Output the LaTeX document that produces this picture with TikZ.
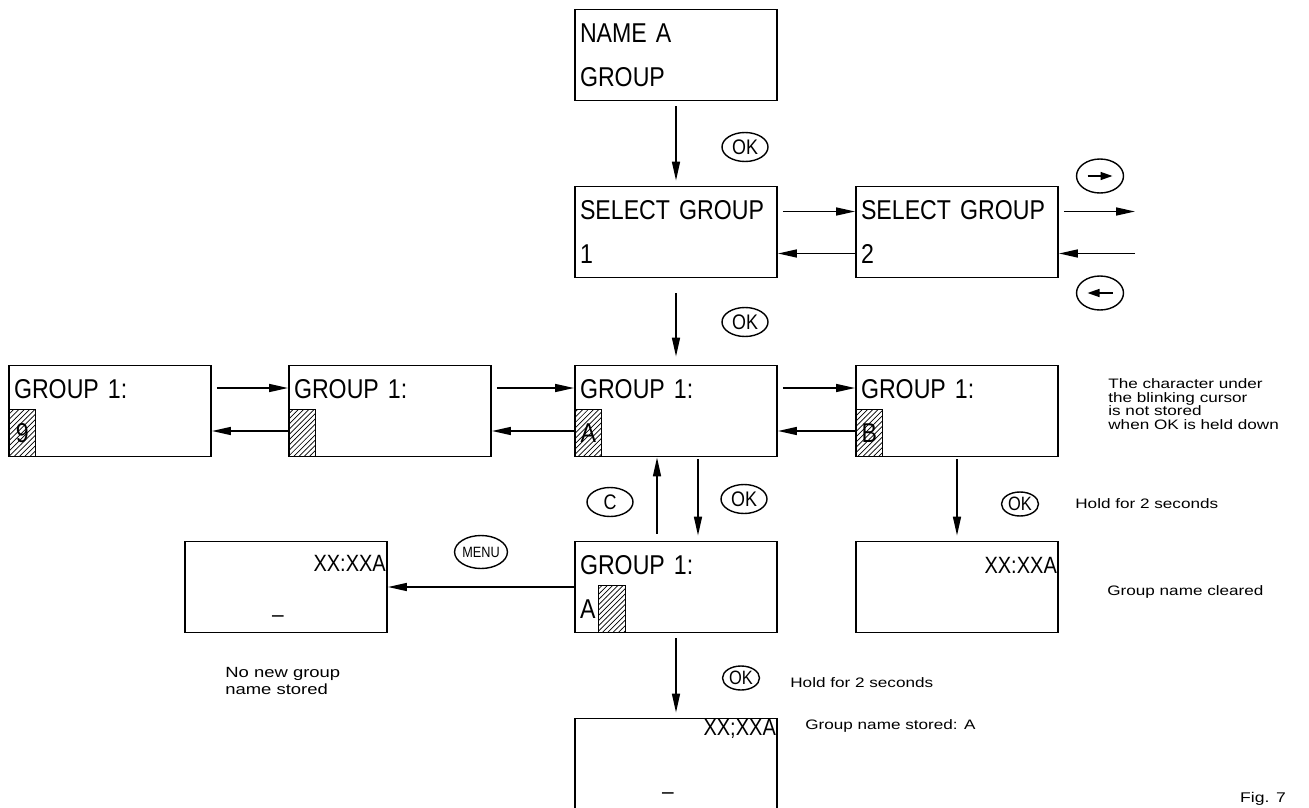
\documentclass[tikz,border=0pt]{standalone}
\usepackage{fontspec}
\setmainfont{Liberation Sans}
\newfontfamily\lcdfont[FakeStretch=0.85]{Liberation Sans}
\newfontfamily\notefont[FakeStretch=1.25]{Liberation Sans}
\usetikzlibrary{shapes.geometric,arrows.meta,patterns}
\tikzset{
  lcdbox/.style={rectangle,draw=black,line width=1.1pt,minimum width=4.04cm,
                 minimum height=1.82cm,inner sep=0pt},
  lcdscreen/.style={lcdbox,align=left,text width=3.84cm,
                    font=\lcdfont\fontsize{15.5}{25}\selectfont},
  cursorbox/.style={rectangle,draw=black,line width=0.8pt,
                    pattern=north east lines,minimum width=0.54cm,
                    minimum height=0.94cm,inner sep=0pt,
                    font=\lcdfont\fontsize{15.5}{18}\selectfont},
  clocktext/.style={inner sep=1pt,font=\lcdfont\fontsize{13.4}{16}\selectfont},
  keybtn/.style={ellipse,draw=black,line width=0.8pt,minimum width=0.92cm,
                 minimum height=0.58cm,inner sep=0pt,
                 font=\lcdfont\fontsize{12}{14}\selectfont},
  holdkey/.style={keybtn,minimum width=0.74cm,minimum height=0.48cm,
                  font=\lcdfont\fontsize{11}{13}\selectfont},
  rightkey/.style={keybtn,minimum width=0.94cm,minimum height=0.68cm,
    path picture={\draw[-{Triangle[length=0.24cm,width=0.16cm]},line width=0.8pt]
      ([xshift=-0.25cm]path picture bounding box.center) --
      ([xshift=0.25cm]path picture bounding box.center);}},
  leftkey/.style={keybtn,minimum width=0.94cm,minimum height=0.68cm,
    path picture={\draw[-{Triangle[length=0.24cm,width=0.16cm]},line width=0.8pt]
      ([xshift=0.25cm]path picture bounding box.center) --
      ([xshift=-0.25cm]path picture bounding box.center);}},
  notetext/.style={inner sep=0pt,align=left,
                   font=\notefont\fontsize{7.8}{7.8}\selectfont},
  arr/.style={-{Triangle[length=0.38cm,width=0.16cm]},line width=0.9pt}
}

\begin{document}
\begin{tikzpicture}[x=0.02cm,y=-0.02cm]
  \useasboundingbox (0,0) rectangle (1309,808);

  % screens
  \node[lcdscreen] (name) at (676,55) {NAME A\\GROUP};
  \node[lcdscreen] (sel1) at (676,232) {SELECT GROUP\\1};
  \node[lcdscreen] (sel2) at (957,232) {SELECT GROUP\\2};
  \node[lcdscreen] (g9) at (110,411) {GROUP 1:\\\phantom{A}};
  \node[lcdscreen] (gblank) at (390,411) {GROUP 1:\\\phantom{A}};
  \node[lcdscreen] (gA) at (676,411) {GROUP 1:\\\phantom{A}};
  \node[lcdscreen] (gB) at (957,411) {GROUP 1:\\\phantom{A}};
  \node[lcdscreen] (gedit) at (676,587) {GROUP 1:\\A};
  \node[lcdbox] (nonew) at (286,587) {};
  \node[lcdbox] (clear) at (957,587) {};
  \node[lcdbox] (store) at (676,764) {};

  % blinking cursor
  \node[cursorbox,anchor=south west] (c9) at (g9.south west) {9};
  \node[cursorbox,anchor=south west] (cblank) at (gblank.south west) {};
  \node[cursorbox,anchor=south west] (cA) at (gA.south west) {A};
  \node[cursorbox,anchor=south west] (cB) at (gB.south west) {B};
  \node[cursorbox,anchor=south west] (cedit) at ([xshift=0.48cm]gedit.south west) {};

  % clock screens
  \node[clocktext,anchor=east] (tnonew) at ([yshift=-0.46cm]nonew.north east) {XX:XXA};
  \node[clocktext] (unonew) at ([xshift=-0.16cm,yshift=-0.56cm]nonew.center) {\_};
  \node[clocktext,anchor=east] (tclear) at ([yshift=-0.5cm]clear.north east) {XX:XXA};
  \node[clocktext,anchor=east] (tstore) at ([yshift=-0.22cm]store.north east) {XX;XXA};
  \node[clocktext] (ustore) at ([xshift=-0.16cm,yshift=-0.56cm]store.center) {\_};

  % keys
  \node[keybtn] (ok1) at (745,147) {OK};
  \node[keybtn] (ok2) at (745,322) {OK};
  \node[keybtn] (keyc) at (610,502) {C};
  \node[keybtn] (ok3) at (744,499) {OK};
  \node[holdkey] (ok4) at (1020,504) {OK};
  \node[holdkey] (ok5) at (741,678) {OK};
  \node[keybtn,minimum width=0.96cm,minimum height=0.66cm,
        font=\lcdfont\fontsize{8.5}{10}\selectfont] (menu) at (481,552) {MENU};
  \node[rightkey] (keyr) at (1100,176) {};
  \node[leftkey] (keyl) at (1100,293) {};

  % notes
  \node[notetext,anchor=west] (nchar) at (1108,404) {The character under\\the blinking cursor\\is not stored\\when OK is held down};
  \node[notetext,anchor=west] (hold1) at (1075,504) {Hold for 2 seconds};
  \node[notetext,anchor=west] (ncleared) at (1107,592) {Group name cleared};
  \node[notetext,anchor=west,font=\notefont\fontsize{8.4}{10}\selectfont] (nnone) at (225,681) {No new group\\name stored};
  \node[notetext,anchor=west] (hold2) at (790,683) {Hold for 2 seconds};
  \node[notetext,anchor=west] (nstored) at (805,726) {Group name stored: A};
  \node[notetext,font=\notefont\fontsize{8}{10}\selectfont] (fig) at (1263,799) {Fig. 7};

  % arrows
  \draw[arr,shorten <=0.1cm,shorten >=0.1cm] (name) -- (sel1);
  \draw[arr,shorten <=0.3cm,shorten >=0.16cm] (sel1) -- (gA);
  \foreach \a/\b/\u/\d in {sel1/sel2/0.41/-0.43,g9/gblank/0.46/-0.4,
                           gblank/gA/0.46/-0.4,gA/gB/0.46/-0.4}{
    \draw[arr,shorten <=0.1cm] ([yshift=\u cm]\a.east) -- ([yshift=\u cm]\b.west);
    \draw[arr] ([yshift=\d cm]\b.west) -- ([yshift=\d cm]\a.east);
  }
  \coordinate (more) at (1135,232);
  \draw[arr,shorten <=0.1cm] ([yshift=0.41cm]sel2.east) -- ([yshift=0.41cm]more);
  \draw[arr] ([yshift=-0.43cm]more) -- ([yshift=-0.43cm]sel2.east);
  \draw[arr,shorten <=0.04cm,shorten >=0.1cm] ([xshift=0.44cm]gA.south) -- ([xshift=0.44cm]gedit.north);
  \draw[arr,shorten <=0.14cm] ([xshift=-0.38cm]gedit.north) -- ([xshift=-0.38cm]gA.south);
  \draw[arr,shorten <=0.04cm,shorten >=0.1cm] (gB) -- (clear);
  \draw[arr,shorten <=0.1cm,shorten >=0.1cm] (gedit) -- (store);
  \draw[arr] (gedit) -- (nonew);
\end{tikzpicture}
\end{document}
